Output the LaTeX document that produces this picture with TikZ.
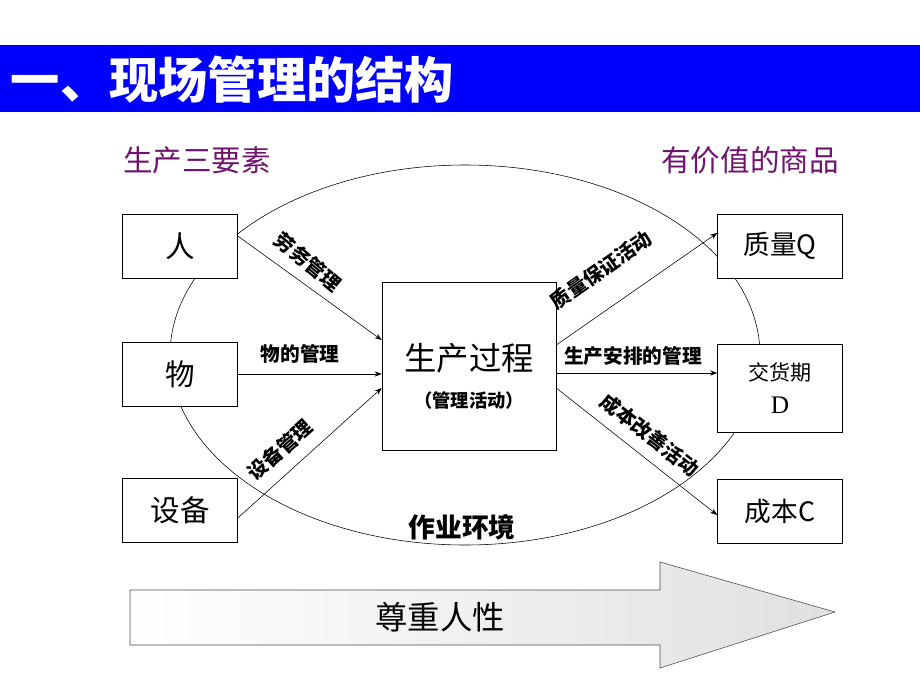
\documentclass[tikz,border=0pt]{standalone}
\usepackage{fontspec}
\setmainfont{Liberation Serif}
\newfontfamily\cjk{Noto Sans CJK SC}
\usetikzlibrary{arrows.meta}
\definecolor{titleblue}{RGB}{0,0,255}
\definecolor{headpurple}{RGB}{110,20,110}
\tikzset{
  factor/.style={draw, minimum width=2.875cm, minimum height=1.6cm, font=\cjk\fontsize{21}{21}\selectfont},
  goal/.style={draw, minimum width=3.125cm, minimum height=1.6cm, font=\cjk\fontsize{19}{19}\selectfont},
  flow/.style={-{Stealth[length=5pt]}, thin},
  tag/.style={font=\cjk\bfseries\fontsize{14}{14}\selectfont, inner sep=1pt}
}
\begin{document}
\begin{tikzpicture}[x=0.025cm, y=-0.025cm]
  \useasboundingbox (0,0) rectangle (920,690);
  % title bar
  \fill[titleblue] (0,45) rectangle (920,112);
  \node[anchor=west, text=white, font=\cjk\bfseries\fontsize{35}{35}\selectfont] (title) at (6,80) {一、现场管理的结构};
  \node[text=headpurple, font=\cjk\fontsize{21}{21}\selectfont] (input) at (197,160) {生产三要素};
  \node[text=headpurple, font=\cjk\fontsize{21}{21}\selectfont] (output) at (750,160) {有价值的商品};

  % environment
  \draw (465,355) ellipse [x radius=295, y radius=190];
  \node[font=\cjk\bfseries\fontsize{19}{19}\selectfont] (env) at (462,527) {作业环境};

  % factors
  \node[factor, fill=white] (ren) at (180,246) {人};
  \node[factor, fill=white] (wu) at (180,374) {物};
  \node[factor, fill=white] (shebei) at (180,510) {设备};

  % process
  \node[draw, fill=white, minimum width=4.35cm, minimum height=4.2cm] (proc) at (469,366) {};
  \node[font=\cjk\fontsize{23}{23}\selectfont] (proctxt) at (469,358) {生产过程};
  \node[font=\cjk\bfseries\fontsize{13}{13}\selectfont] (procsub) at (469,401) {（管理活动）};

  % goods
  \node[goal, fill=white] (zhiliang) at (780,246) {质量Q};
  \node[goal, fill=white, minimum height=2.2cm, align=center, font=\cjk\fontsize{15}{24}\selectfont] (jiaohuo) at (780,388) {交货期\\{\rmfamily\fontsize{18}{18}\selectfont D}};
  \node[goal, fill=white] (chengben) at (780,511) {成本C};

  % flows in
  \draw[flow] (ren.east) ++(0,-10) -- (proc.west |- 0,340);
  \draw[flow] (wu.east) -- (proc.west |- 0,374);
  \draw[flow] (shebei.east) ++(0,8) -- (proc.west |- 0,388);
  \node[tag, rotate=-40] (t1) at (308,262) {劳务管理};
  \node[tag] (t2) at (300,354) {物的管理};
  \node[tag, rotate=42] (t3) at (280,450) {设备管理};

  % flows out
  \draw[flow] (proc.east |- 0,345) -- (zhiliang.west |- 0,233);
  \draw[flow] (proc.east |- 0,373) -- (jiaohuo.west |- 0,373);
  \draw[flow] (proc.east |- 0,388) -- (chengben.west |- 0,515);
  \node[tag, rotate=35] (t4) at (601,270) {质量保证活动};
  \node[tag] (t5) at (633,356) {生产安排的管理};
  \node[tag, rotate=-38] (t6) at (650,435) {成本改善活动};

  % base arrow
  \shade[left color=white, right color=black!12, draw=black!70]
    (130,590) -- (660,590) -- (660,562) -- (835,612) -- (660,668) -- (660,645) -- (130,645) -- cycle;
  \node[font=\cjk\fontsize{23}{23}\selectfont] (renxing) at (440,617) {尊重人性};
\end{tikzpicture}
\end{document}
